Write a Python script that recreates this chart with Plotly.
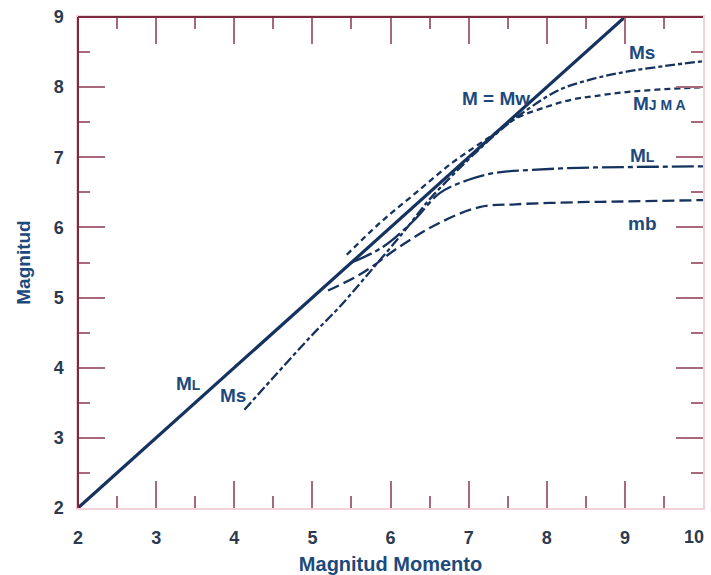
import plotly.graph_objects as go

# Moment magnitude vs. other magnitude scales (saturation curves)
mw_x = [2, 9]
mw_y = [2, 9]

ms_x = [4.13, 4.5, 5.0, 5.35, 5.8, 6.2, 6.5, 7.0, 7.4, 7.7, 8.16, 8.6, 9.02, 9.5, 10.0]
ms_y = [3.40, 3.86, 4.47, 4.87, 5.45, 5.98, 6.40, 6.97, 7.38, 7.64, 7.96, 8.12, 8.22, 8.30, 8.37]

mjma_x = [5.44, 5.86, 6.3, 6.8, 7.27, 7.6, 8.0, 8.31, 8.6, 9.02, 9.5, 10.0]
mjma_y = [5.61, 6.06, 6.47, 6.93, 7.29, 7.55, 7.72, 7.82, 7.87, 7.93, 7.97, 8.00]

ml_x = [5.5, 5.9, 6.3, 6.63, 7.0, 7.35, 7.8, 8.42, 9.0, 10.0]
ml_y = [5.5, 5.72, 6.10, 6.49, 6.68, 6.78, 6.82, 6.85, 6.86, 6.87]

mb_x = [5.2, 5.64, 6.11, 6.6, 7.14, 7.6, 8.42, 9.0, 10.0]
mb_y = [5.10, 5.35, 5.72, 6.05, 6.29, 6.33, 6.36, 6.37, 6.39]

x_ticks = [2, 3, 4, 5, 6, 7, 8, 9, 10]
x_tick_text = ["2", "3", "4", "5", "6", "7", "8", "9", "10"]
y_ticks = [2, 3, 4, 5, 6, 7, 8, 9]

LINE = "#16325f"
LABEL = "#1d4a7c"
FRAME = "#7a2c3c"
FAINT = "#f3d3d8"
TICK = "#a8697a"
TICKTXT = "#2c3a50"
FONT = "Liberation Sans, Arial, sans-serif"

fig = go.Figure()

fig.add_trace(go.Scatter(x=mw_x, y=mw_y, mode="lines",
                         line=dict(color=LINE, width=3.2)))
fig.add_trace(go.Scatter(x=ms_x, y=ms_y, mode="lines", line_shape="spline",
                         line=dict(color=LINE, width=2.3, dash="10px,3px,4px,3px")))
fig.add_trace(go.Scatter(x=mjma_x, y=mjma_y, mode="lines", line_shape="spline",
                         line=dict(color=LINE, width=2.3, dash="6px,4px")))
fig.add_trace(go.Scatter(x=ml_x, y=ml_y, mode="lines", line_shape="spline",
                         line=dict(color=LINE, width=2.3, dash="22px,4px,5px,4px")))
fig.add_trace(go.Scatter(x=mb_x, y=mb_y, mode="lines", line_shape="spline",
                         line=dict(color=LINE, width=2.3, dash="12px,5px")))

lab_font = dict(family=FONT, size=19, color=LABEL, weight="bold")
SMALL = "<span style='font-size:14px'>{}</span>"
labels = [
    (7.35, 7.84, "M = Mw"),
    (9.22, 8.50, "Ms"),
    (9.44, 7.76, "M" + SMALL.format("J M A")),
    (9.22, 7.02, "M" + SMALL.format("L")),
    (9.22, 6.05, "mb"),
    (3.41, 3.78, "M" + SMALL.format("L")),
    (3.99, 3.61, "Ms"),
]
for lx, ly, txt in labels:
    fig.add_annotation(x=lx, y=ly, text=txt, showarrow=False, font=lab_font)

tick_font = dict(family=FONT, size=18, color=TICKTXT, weight="bold")

# the last x label sits flush with the right edge of the figure
fig.add_annotation(x=1, y=0, xref="paper", yref="paper", text=x_tick_text[-1],
                   showarrow=False, xanchor="right", yanchor="middle",
                   xshift=3, yshift=-29, font=tick_font)

# frame: strong left/top edges, faint bottom/right edges
fig.add_shape(type="line", xref="paper", yref="paper", x0=0, x1=0, y0=0, y1=1,
              line=dict(color=FRAME, width=2), layer="above")
fig.add_shape(type="line", xref="paper", yref="paper", x0=0, x1=1, y0=1, y1=1,
              line=dict(color=FRAME, width=2), layer="above")

axis_common = dict(
    showgrid=False, zeroline=False, showline=True, linecolor=FAINT, linewidth=1.5,
    mirror="allticks", ticks="inside", ticklen=27, tickwidth=1.5, tickcolor=TICK,
    tickfont=tick_font, automargin=False,
    minor=dict(ticks="inside", ticklen=12, tickwidth=1.5, tickcolor=TICK, dtick=0.5),
)

fig.update_xaxes(range=[2, 10], tickvals=x_ticks,
                 ticktext=x_tick_text[:-1] + [""], ticklabelstandoff=13,
                 title=dict(text="Magnitud Momento", standoff=11,
                            font=dict(family=FONT, size=20, color=LABEL, weight="bold")),
                 **axis_common)
fig.update_yaxes(range=[2, 9], tickvals=y_ticks, ticklabelstandoff=9,
                 title=dict(text="Magnitud", standoff=18,
                            font=dict(family=FONT, size=19, color=LABEL, weight="bold")),
                 **axis_common)

fig.update_layout(
    width=711, height=575,
    margin=dict(l=78, r=8, t=17, b=67),
    paper_bgcolor="white", plot_bgcolor="white",
    showlegend=False,
)

fig.write_html("out.html")
